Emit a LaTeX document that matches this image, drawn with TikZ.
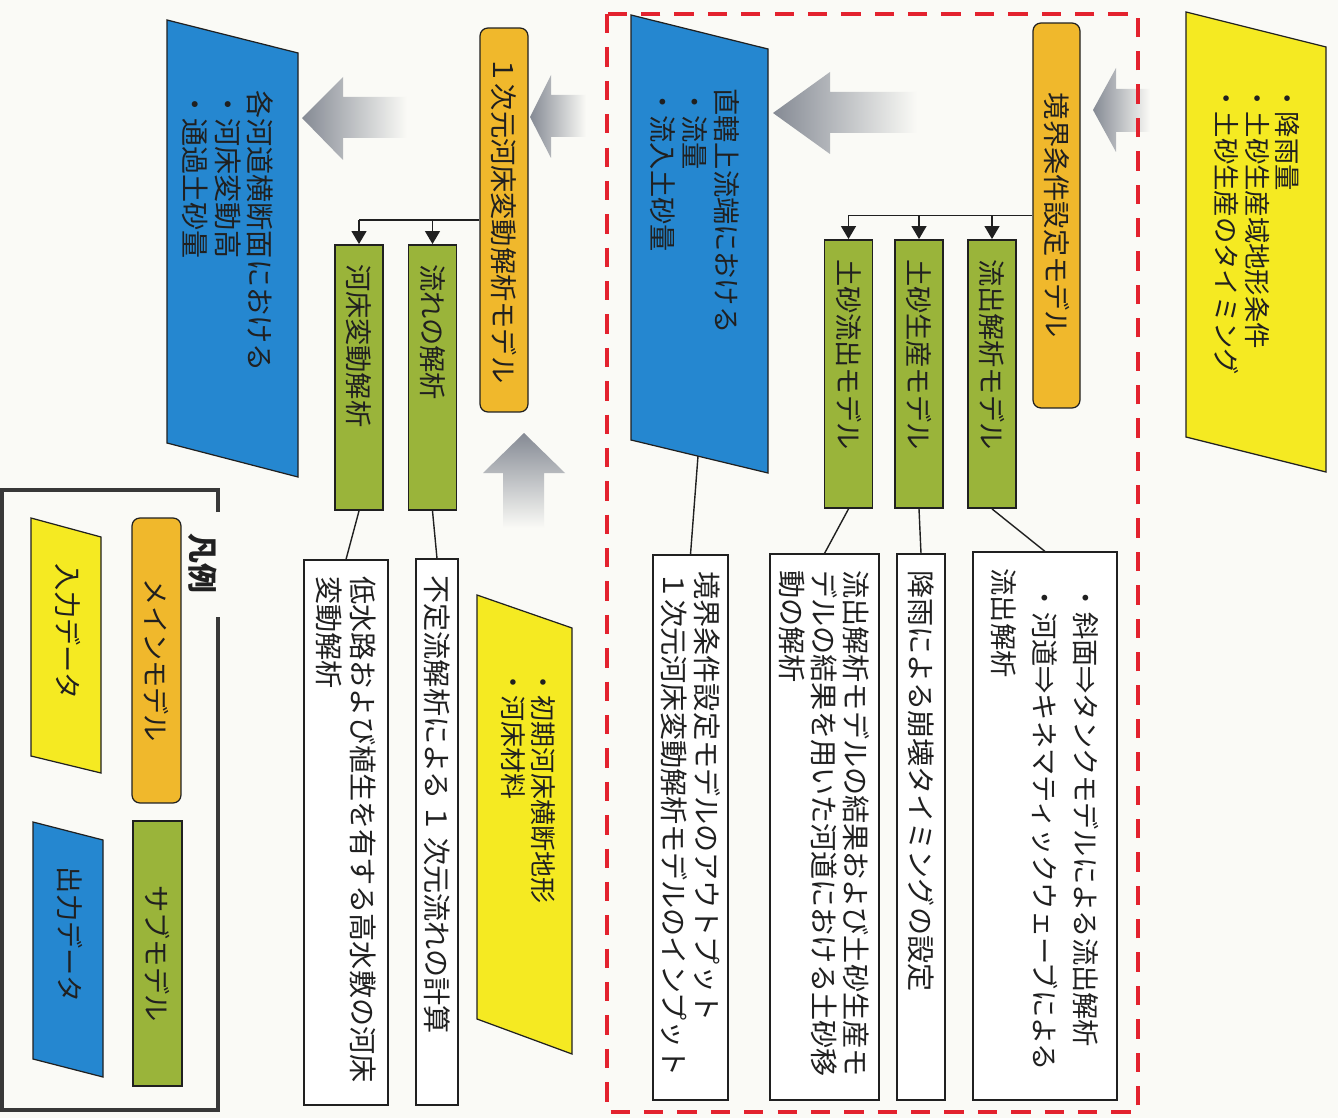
\documentclass[tikz,border=0pt]{standalone}
\usepackage{fontspec}
\setmainfont{Noto Sans CJK JP}
\usetikzlibrary{arrows.meta}
\definecolor{cyel}{HTML}{F5EA22}
\definecolor{cora}{HTML}{F0B82C}
\definecolor{cgrn}{HTML}{9AB43A}
\definecolor{cblu}{HTML}{2587D0}
\definecolor{cred}{HTML}{E3222E}
\definecolor{cbg}{HTML}{FAFAF6}
\definecolor{cline}{HTML}{202020}
\definecolor{carr}{HTML}{858A94}
\begin{document}
\begin{tikzpicture}[x=0.02cm,y=-0.02cm,
  rbox/.style={rotate=-90,draw=cline,line width=0.7pt,inner ysep=0pt,text=cline},
  mainm/.style={rbox,fill=cora,rounded corners=4.5pt,align=center,inner xsep=0pt,font=\fontsize{15.5}{18}\selectfont},
  subm/.style={rbox,fill=cgrn,line width=1.1pt,align=left,inner xsep=0.38cm,text width=4.6cm,minimum height=0.96cm,font=\fontsize{15.5}{18}\selectfont},
  legm/.style={rbox,align=center,inner xsep=0pt,font=\fontsize{15.5}{18}\selectfont},
  desc/.style={rbox,fill=white,align=left,inner xsep=0.33cm,font=\fontsize{16}{19}\selectfont},
  ptext/.style={rotate=-90,inner sep=0pt,align=left,anchor=west,text=cline},
  para/.style={draw=cline,line width=0.7pt},
  conn/.style={draw=cline,line width=0.8pt},
  tip/.style={conn,-{Triangle[length=7.4pt,width=8.5pt]}},
  garrow/.style={left color=carr,right color=cbg},
  gup/.style={top color=carr,bottom color=cbg},
  frame/.style={draw=black!78,line width=2.4pt},
]
\fill[cbg] (0,0) rectangle (1338,1118);
\useasboundingbox (0,0) rectangle (1338,1118);

% ---------- gray flow arrows ----------
\shade[garrow] (1093,110) -- (1116,68) -- (1116,89) -- (1150,89) -- (1150,132) -- (1116,132) -- (1116,152) -- cycle;
\shade[garrow] (773,113) -- (830,72) -- (830,92) -- (917,92) -- (917,133) -- (830,133) -- (830,154) -- cycle;
\shade[garrow] (530,117) -- (551,75) -- (551,95) -- (586,95) -- (586,137) -- (551,137) -- (551,158) -- cycle;
\shade[garrow] (302,118) -- (343,77) -- (343,97) -- (407,97) -- (407,138) -- (343,138) -- (343,160) -- cycle;
\shade[gup] (524,433) -- (565,473) -- (544,473) -- (544,528) -- (503,528) -- (503,473) -- (483,473) -- cycle;

% ---------- red dashed region ----------
\draw[cred,line width=2.6pt,dash pattern=on 11pt off 8pt] (607,14) rectangle (1138,1112);

% ---------- input data (top right) ----------
\filldraw[para,fill=cyel] (1186,12) -- (1326,47) -- (1326,472) -- (1186,437) -- cycle;
\node[ptext,font=\fontsize{15}{17.5}\selectfont] (in1) at (1257,85) {・降雨量\\・土砂生産域地形条件\\・土砂生産のタイミング};

% ---------- boundary condition model ----------
\node[mainm,minimum width=7.7cm,minimum height=0.94cm] (b1) at (1056.5,215.5) {境界条件設定モデル};
\node[subm] (g1) at (992,374) {流出解析モデル};
\node[subm] (g2) at (919,374) {土砂生産モデル};
\node[subm] (g3) at (848.5,374) {土砂流出モデル};
\draw[conn] (b1.south) -- (g3.west |- b1.south);
\foreach \g in {g1,g2,g3} \draw[tip] (\g.west |- b1.south) -- (\g.west);

\node[desc,minimum height=2.88cm,text width=10.3cm,font=\fontsize{15.5}{23.3}\selectfont] (w1) at (1045,826)
  {\hspace*{0.6em}・斜面⇒タンクモデルによる流出解析\\\hspace*{0.6em}・河道⇒キネマティックウェーブによる\\流出解析};
\node[desc,minimum height=0.96cm,text width=10.26cm] (w2) at (921,827) {降雨による崩壊タイミングの設定};
\node[desc,minimum height=2.18cm,text width=10.26cm,font=\fontsize{16}{18.2}\selectfont] (w3) at (824.5,827)
  {流出解析モデルの結果および土砂生産モ\\デルの結果を用いた河道における土砂移\\動の解析};
\draw[conn] (g1.east) -- (w1.west);
\draw[conn] (g2.east) -- (w2.west);
\draw[conn] (g3.east) -- (w3.west);

% ---------- output at upstream end ----------
\filldraw[para,fill=cblu] (631,15) -- (768,49) -- (768,473) -- (631,440) -- cycle;
\node[ptext,font=\fontsize{15.5}{18.2}\selectfont] (out1) at (695,88) {直轄上流端における\\・流量\\・流入土砂量};
\coordinate (out1b) at (698,456);
\node[desc,minimum height=1.5cm,text width=10.24cm,font=\fontsize{16}{18.8}\selectfont] (w4) at (690.5,827.5)
  {境界条件設定モデルのアウトプット\\１次元河床変動解析モデルのインプット};
\draw[conn] (out1b) -- (w4.west);

% ---------- 1D river bed model ----------
\node[mainm,minimum width=7.68cm,minimum height=0.96cm] (m2) at (504,220) {１次元河床変動解析モデル};
\node[subm,minimum width=5.3cm,text width=4.54cm] (s1) at (432.5,377.5) {流れの解析};
\node[subm,minimum width=5.3cm,text width=4.54cm] (s2) at (359,377.5) {河床変動解析};
\draw[conn] (m2.south) -- (s2.west |- m2.south);
\foreach \g in {s1,s2} \draw[tip] (\g.west |- m2.south) -- (\g.west);

\node[desc,minimum height=0.84cm,text width=10.26cm] (w5) at (437,832) {不定流解析による\,１\,次元流れの計算};
\node[desc,minimum height=1.68cm,text width=10.24cm,font=\fontsize{16}{19.3}\selectfont] (w6) at (346,832.5)
  {低水路および植生を有する高水敷の河床\\変動解析};
\draw[conn] (s1.east) -- (w5.west);
\draw[conn] (s2.east) -- (w6.west);

% ---------- input data (river bed) ----------
\filldraw[para,fill=cyel] (477,595) -- (572,628) -- (572,1054) -- (477,1019) -- cycle;
\node[ptext,font=\fontsize{14.8}{17}\selectfont] (in2) at (528,669) {・初期河床横断地形\\・河床材料};

% ---------- output data (cross sections) ----------
\filldraw[para,fill=cblu] (167,20) -- (298,53) -- (298,477) -- (167,443) -- cycle;
\node[ptext,font=\fontsize{16}{18.5}\selectfont] (out2) at (228,90) {各河道横断面における\\・河床変動高\\・通過土砂量};

% ---------- legend ----------
\draw[frame] (218,512) -- (218,490) -- (2,490) -- (2,1110) -- (218,1110) -- (218,617);
\node[rotate=-90,inner sep=0pt,text=cline,font=\fontsize{17}{20}\selectfont\bfseries] (legt) at (203,563) {凡例};
\node[legm,fill=cora,rounded corners=4.5pt,minimum width=5.7cm,minimum height=0.98cm] (lo) at (156.5,660.5) {メインモデル};
\node[legm,fill=cgrn,line width=1.1pt,minimum width=5.3cm,minimum height=0.98cm] (lg) at (157.5,953.5) {サブモデル};
\filldraw[para,fill=cyel] (31,518) -- (101,537) -- (101,773) -- (31,756) -- cycle;
\node[rotate=-90,inner sep=0pt,text=cline,font=\fontsize{15.5}{18}\selectfont] (ly) at (68,632) {入力データ};
\filldraw[para,fill=cblu] (33,822) -- (103,840) -- (103,1077) -- (33,1059) -- cycle;
\node[rotate=-90,inner sep=0pt,text=cline,font=\fontsize{15.5}{18}\selectfont] (lb) at (70,935) {出力データ};
\end{tikzpicture}
\end{document}
